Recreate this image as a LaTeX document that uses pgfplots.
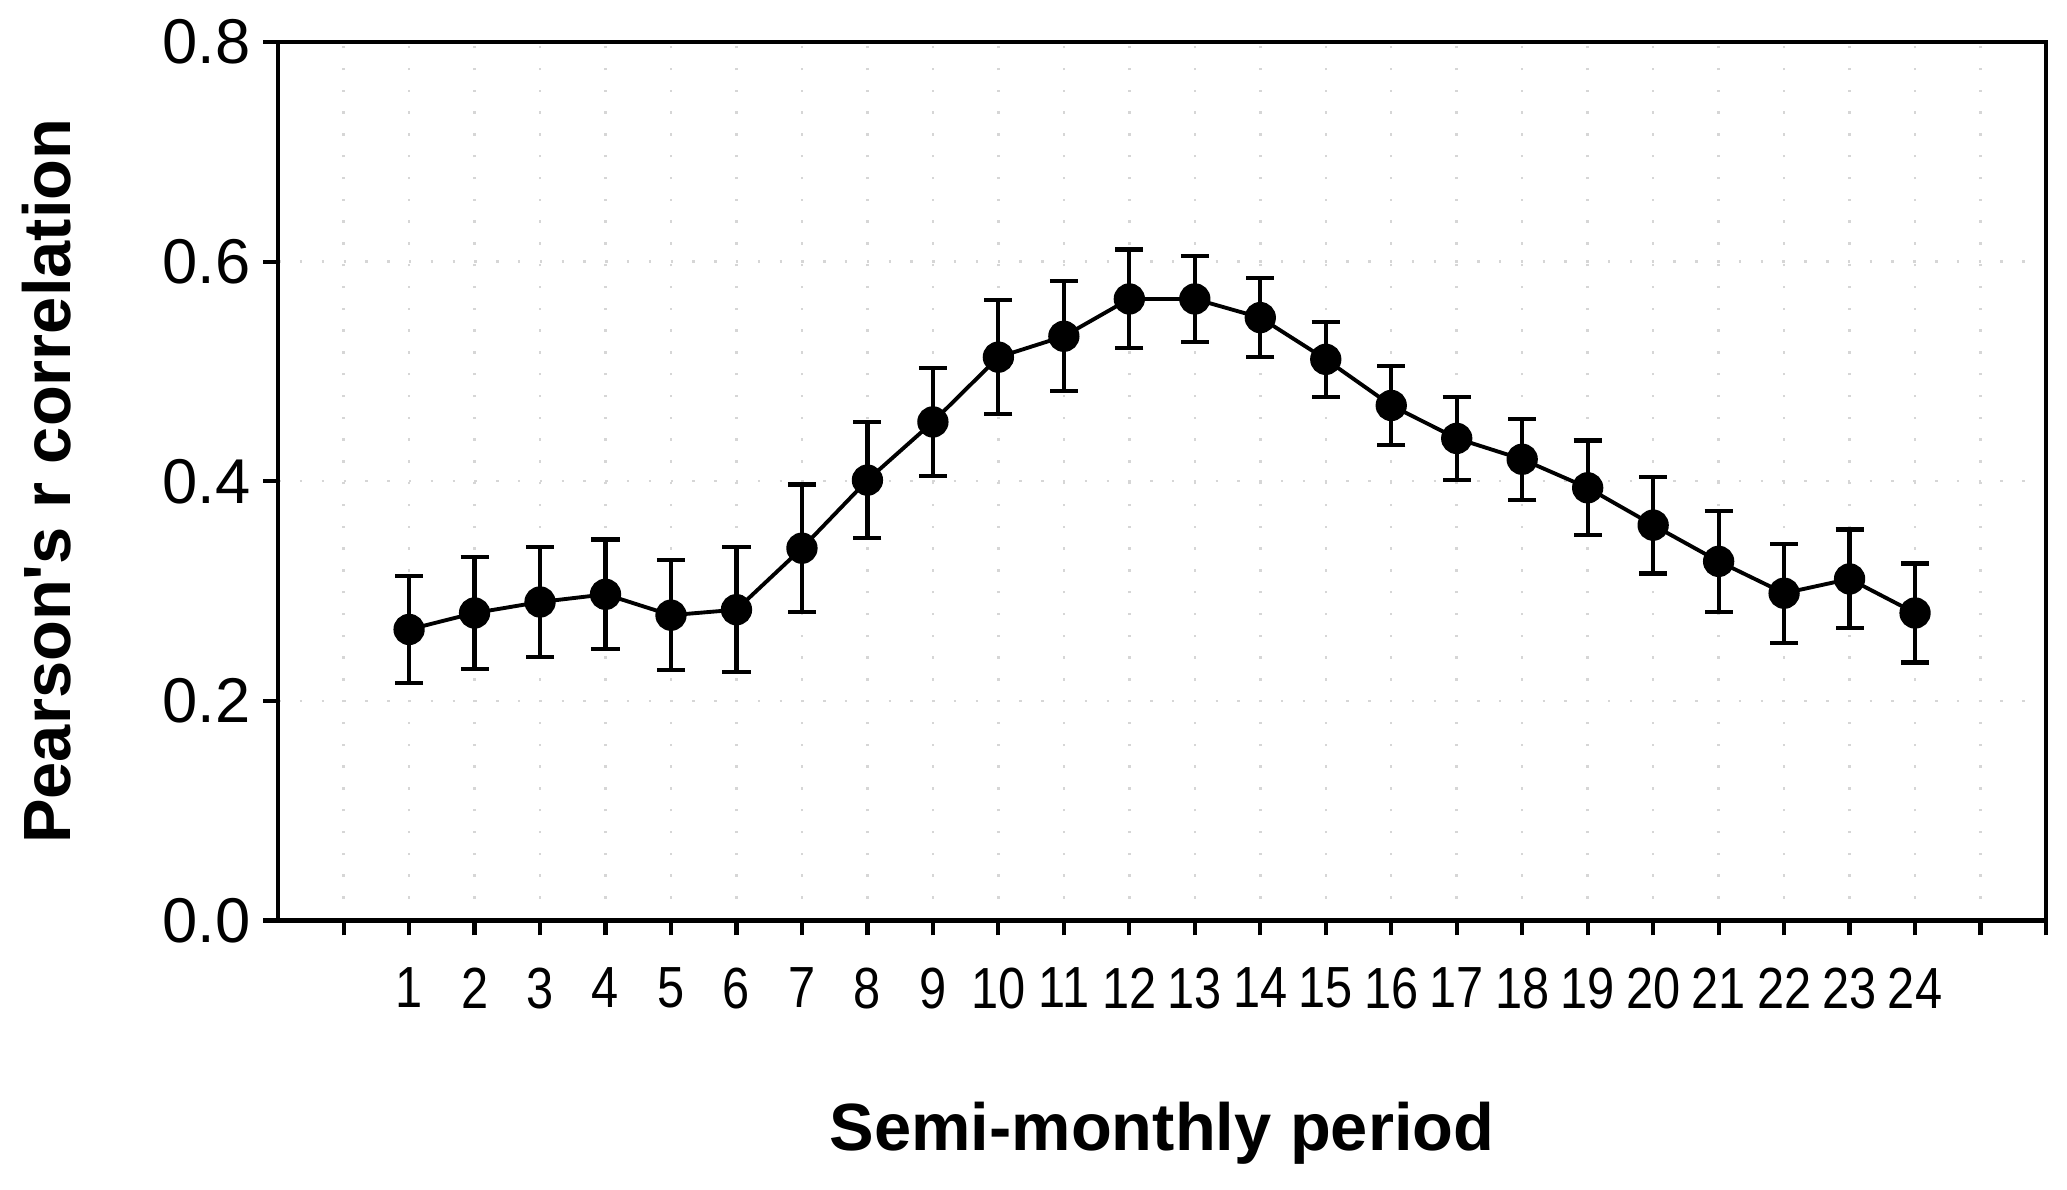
\documentclass[border=0pt]{standalone}
\usepackage{fontspec}
\setmainfont{Liberation Sans}
\newfontfamily\narrowfont[FakeStretch=0.84]{Liberation Sans}
\usepackage{pgfplots}
\pgfplotsset{compat=1.18}

\begin{document}
\begin{tikzpicture}
    \begin{axis}[
        scale only axis,
        width=17.67cm,
        height=8.78cm,
        xmin=-1, xmax=26,
        ymin=0, ymax=0.8,
        xtick={0,...,26},
        xticklabels={,1,2,3,4,5,6,7,8,9,10,11,12,13,14,15,16,17,18,19,20,21,22,23,24,,},
        ytick={0,0.2,0.4,0.6,0.8},
        /pgf/number format/assume math mode=true,
        yticklabel style={font=\fontsize{18}{21}\selectfont,
            /pgf/number format/fixed, /pgf/number format/fixed zerofill,
            /pgf/number format/precision=1},
        xticklabel style={font=\narrowfont\fontsize{16.5}{19}\selectfont, yshift=-0.2cm},
        tick pos=left,
        tick align=outside,
        major tick length=0.15cm,
        minor tick num=0,
        axis line style={line width=1.2pt},
        every tick/.style={black, line width=1.2pt},
        xmajorgrids, ymajorgrids,
        major grid style={gray!32, line width=0.7pt, dash pattern=on 0.7pt off 5.5pt},
        xlabel={Semi-monthly period},
        ylabel={Pearson\textquotesingle s r correlation},
        xlabel style={font=\bfseries\fontsize{19}{22}\selectfont, at={(axis description cs:0.5,-0.2426)}, anchor=center},
        ylabel style={font=\bfseries\fontsize{19}{22}\selectfont, at={(axis description cs:-0.131,0.5)}, anchor=center},
    ]
    % correlation per period with error bars
    \addplot+[
        black, line width=1.1pt,
        mark=*, mark size=3.9pt, mark options={fill=black, solid},
        error bars/.cd, y dir=both, y explicit,
        error mark options={rotate=90, mark size=4pt, line width=1.2pt, black},
        error bar style={line width=1.2pt, black},
    ] coordinates {
        (1,0.265) +- (0,0.049)
        (2,0.280) +- (0,0.051)
        (3,0.290) +- (0,0.050)
        (4,0.297) +- (0,0.050)
        (5,0.278) +- (0,0.050)
        (6,0.283) +- (0,0.057)
        (7,0.339) +- (0,0.058)
        (8,0.401) +- (0,0.053)
        (9,0.454) +- (0,0.049)
        (10,0.513) +- (0,0.052)
        (11,0.532) +- (0,0.050)
        (12,0.566) +- (0,0.045)
        (13,0.566) +- (0,0.039)
        (14,0.549) +- (0,0.036)
        (15,0.511) +- (0,0.034)
        (16,0.469) +- (0,0.036)
        (17,0.439) +- (0,0.038)
        (18,0.420) +- (0,0.037)
        (19,0.394) +- (0,0.043)
        (20,0.360) +- (0,0.044)
        (21,0.327) +- (0,0.046)
        (22,0.298) +- (0,0.045)
        (23,0.311) +- (0,0.045)
        (24,0.280) +- (0,0.045)
    };
    \end{axis}
    \path (current axis.south west) ++(-2.78cm,-2.69cm);
    \path (current axis.north east) ++(0.21cm,0.42cm);
\end{tikzpicture}
\end{document}
